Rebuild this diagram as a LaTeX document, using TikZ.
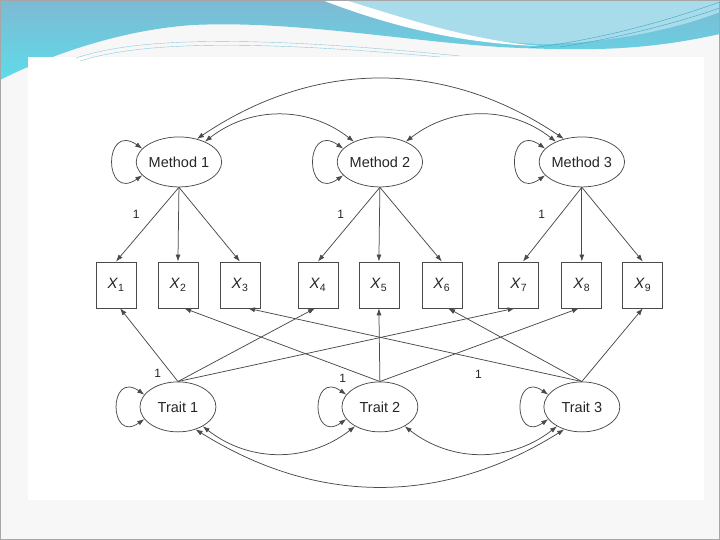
\documentclass[tikz,border=0pt]{standalone}
\usepackage{fontspec}
\setmainfont{Liberation Sans}
\usetikzlibrary{shapes.geometric,arrows.meta}
\definecolor{lineg}{HTML}{4A4A4A}
\definecolor{slidebg}{HTML}{F7F7F7}
\definecolor{bandtop}{HTML}{7EB9D3}
\definecolor{bandbot}{HTML}{5EDCEA}
\definecolor{bandlight}{HTML}{A8DCEA}
\definecolor{bandline}{HTML}{3FA7C4}
\begin{document}
\begin{tikzpicture}[x=1pt,y=1pt,
  latent/.style={ellipse,draw=lineg,line width=0.75pt,minimum width=76pt,minimum height=50pt,inner sep=0pt,text=black!85,font=\fontsize{14.5}{16}\selectfont},
  obs/.style={rectangle,draw=lineg,line width=0.75pt,minimum width=40pt,minimum height=46pt,inner sep=0pt,text=black!85,font=\fontsize{15}{17}\selectfont},
  load/.style={draw=lineg,line width=0.75pt,-{Latex[length=7pt,width=5pt]}},
  cov/.style={draw=lineg,line width=0.75pt,{Latex[length=7pt,width=5pt]}-{Latex[length=7pt,width=5pt]}},
  lbl/.style={inner sep=0pt,text=black!85,font=\fontsize{12}{14}\selectfont}]
\fill[slidebg] (0,0) rectangle (720,-540);
\shade[top color=bandtop,bottom color=bandbot] (0,0) -- (720,0) -- (720,-34) .. controls (640,-52) and (580,-50) .. (520,-48) .. controls (420,-44) and (300,-20) .. (193,-25) .. controls (120,-30) and (50,-55) .. (0,-80) -- cycle;
\fill[bandlight] (345,0) .. controls (420,-28) and (480,-42) .. (540,-44) .. controls (610,-44) and (680,-28) .. (720,-12) -- (720,0) -- cycle;
\fill[white] (322,0) .. controls (400,-30) and (470,-44) .. (540,-46) .. controls (470,-40) and (410,-20) .. (345,0) -- cycle;
\draw[bandline,thin] (530,-48) .. controls (600,-40) and (670,-20) .. (720,-2);
\draw[bandline,thin] (560,-47) .. controls (620,-38) and (680,-22) .. (720,-8);
\fill[white] (28,-57) rectangle (704,-500);
\draw[bandline!60,thin] (76,-58) .. controls (130,-40) and (230,-33) .. (460,-56);
\draw[bandline!60,thin] (80,-61) .. controls (135,-44) and (230,-38) .. (440,-57);
\draw[gray!70] (0.5,-0.5) rectangle (719.5,-539.5);
\node[latent] (M1) at (179,-162) {Method 1};
\node[latent] (M2) at (380,-162) {Method 2};
\node[latent] (M3) at (582,-162) {Method 3};
\node[latent] (T1) at (178,-407) {Trait 1};
\node[latent] (T2) at (380,-407) {Trait 2};
\node[latent] (T3) at (582,-407) {Trait 3};
\foreach \i/\x in {1/116,2/178,3/240,4/318,5/379,6/442,7/519,8/582,9/643}
  \node[obs] (X\i) at (\x,-285) {\textit{X}\textsubscript{\i}};
\draw[load] (M1.south) -- (X1.north) node[lbl,pos=.36,xshift=-20pt] {1};
\draw[load] (M1.south) -- (X2.north);
\draw[load] (M1.south) -- (X3.north);
\draw[load] (M2.south) -- (X4.north) node[lbl,pos=.36,xshift=-17pt] {1};
\draw[load] (M2.south) -- (X5.north);
\draw[load] (M2.south) -- (X6.north);
\draw[load] (M3.south) -- (X7.80) node[lbl,pos=.36,xshift=-19pt] {1};
\draw[load] (M3.south) -- (X8.north);
\draw[load] (M3.south) -- (X9.north);
\draw[load] (T1.north) -- (X1.-80) node[lbl,pos=.11,xshift=-14pt] {1};
\draw[load] (T1.north) -- (X4.-97);
\draw[load] (T1.north) -- (X7.-100);
\draw[load] (T2.north) -- (X2.-75) node[lbl,pos=.19,yshift=-11pt] {1};
\draw[load] (T2.north) -- (X5.south);
\draw[load] (T2.north) -- (X8.-97);
\draw[load] (T3.north) -- (X3.-71) node[lbl,pos=.31,yshift=-16pt] {1};
\draw[load] (T3.north) -- (X6.-75);
\draw[load] (T3.north) -- (X9.south);
\foreach \n in {M1,M2,M3,T1,T2,T3}
  \draw[cov] (\n.160) to[out=145,in=215,looseness=4.6] (\n.200);
\draw[cov] (M1.38) to[bend left=38] (M2.142);
\draw[cov] (M2.38) to[bend left=38] (M3.142);
\draw[cov] (M1.52) to[bend left=34] (M3.128);
\draw[cov] (T1.-38) to[bend right=38] (T2.-142);
\draw[cov] (T2.-38) to[bend right=38] (T3.-142);
\draw[cov] (T1.-52) to[bend right=32] (T3.-128);
\end{tikzpicture}
\end{document}
